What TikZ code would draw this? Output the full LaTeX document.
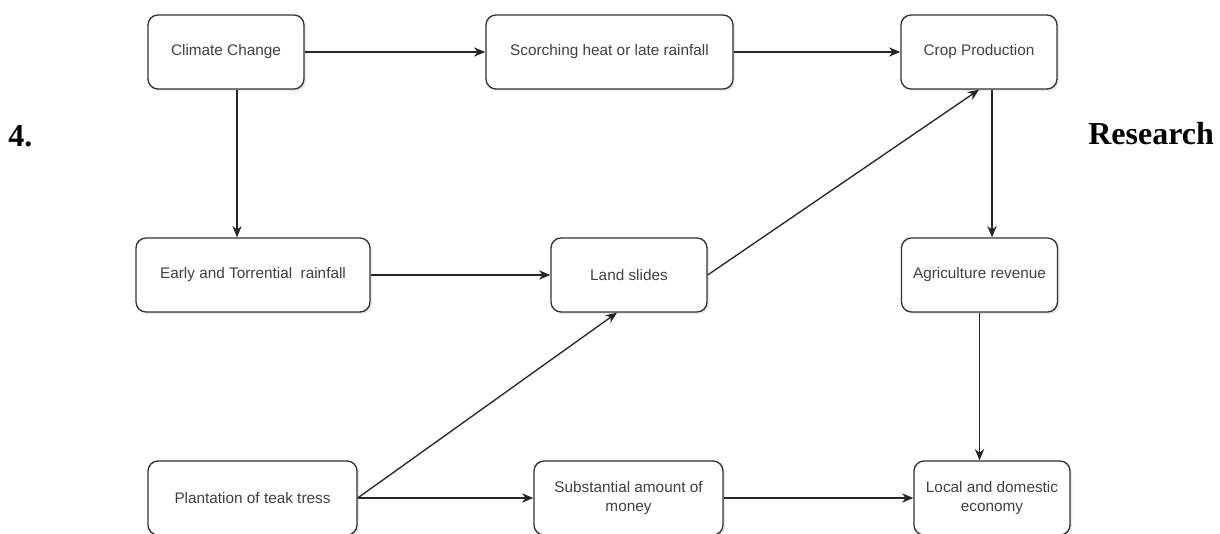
\documentclass[tikz,border=0pt]{standalone}
\usepackage{fontspec}
\setmainfont{Liberation Sans}
\newfontfamily\docserif{Liberation Serif}
\usetikzlibrary{arrows.meta,shadows,calc}

\tikzset{
  stepbox/.style={draw=black!80, line width=1pt, rounded corners=7.5pt, fill=white,
    align=center, minimum height=55.5pt, inner sep=2pt, text=black!75,
    font=\fontsize{11.5}{14}\selectfont,
    drop shadow={opacity=0.18, shadow xshift=1.5pt, shadow yshift=-1.5pt}},
  link/.style={-{Stealth[length=8.5pt,width=7pt]}, line width=1pt, black!85},
  bigword/.style={anchor=base west, inner sep=0pt, font=\docserif\bfseries\fontsize{24}{28}\selectfont},
}

\begin{document}
\begin{tikzpicture}[x=0.75pt, y=-0.75pt]
	\useasboundingbox (0,0) rectangle (1220,534);
	\clip (0,0) rectangle (1220,534);
	% top row
	\node[stepbox, minimum width=117pt] (climate) at (226,52) {Climate Change};
	\node[stepbox, minimum width=185.25pt] (scorch) at (609.5,52) {Scorching heat or late rainfall};
	\node[stepbox, minimum width=117pt] (crop) at (979,52) {Crop Production};
	% middle row
	\node[stepbox, minimum width=175.5pt] (early) at (253,275) {Early and Torrential\ \ rainfall};
	\node[stepbox, minimum width=117pt] (land) at (629,275) {Land slides};
	\node[stepbox, minimum width=117pt] (agri) at (979.5,275) {Agriculture revenue};
	% bottom row
	\node[stepbox, minimum width=156.75pt] (plant) at (252.5,498) {Plantation of teak tress};
	\node[stepbox, minimum width=141.75pt] (money) at (628.5,498) {Substantial amount of\\money};
	\node[stepbox, minimum width=117pt] (economy) at (992,498) {Local and domestic\\economy};
	%
	\node[bigword] (num) at (8,147) {4.};
	\node[bigword] (research) at (1088,145) {Research};
	%
	\coordinate (climout) at ($(climate.south)+(11,0)$);
	\coordinate (cropout) at ($(crop.south)+(13,0)$);
	\coordinate (landin) at ($(land.south)+(-12,0)$);
	%
	\draw[link] (climate) -- (scorch);
	\draw[link] (scorch) -- (crop);
	\draw[link] (climout) -- (climout |- early.north);
	\draw[link] (early) -- (land);
	\draw[link] (land.east) -- (crop.south);
	\draw[link] (cropout) -- (cropout |- agri.north);
	\draw[link] (agri.south) -- (agri.south |- economy.north);
	\draw[link] (plant.east) -- (landin);
	\draw[link] (plant.east) -- (money.west);
	\draw[link] (money.east) -- (economy.west);
\end{tikzpicture}
\end{document}
